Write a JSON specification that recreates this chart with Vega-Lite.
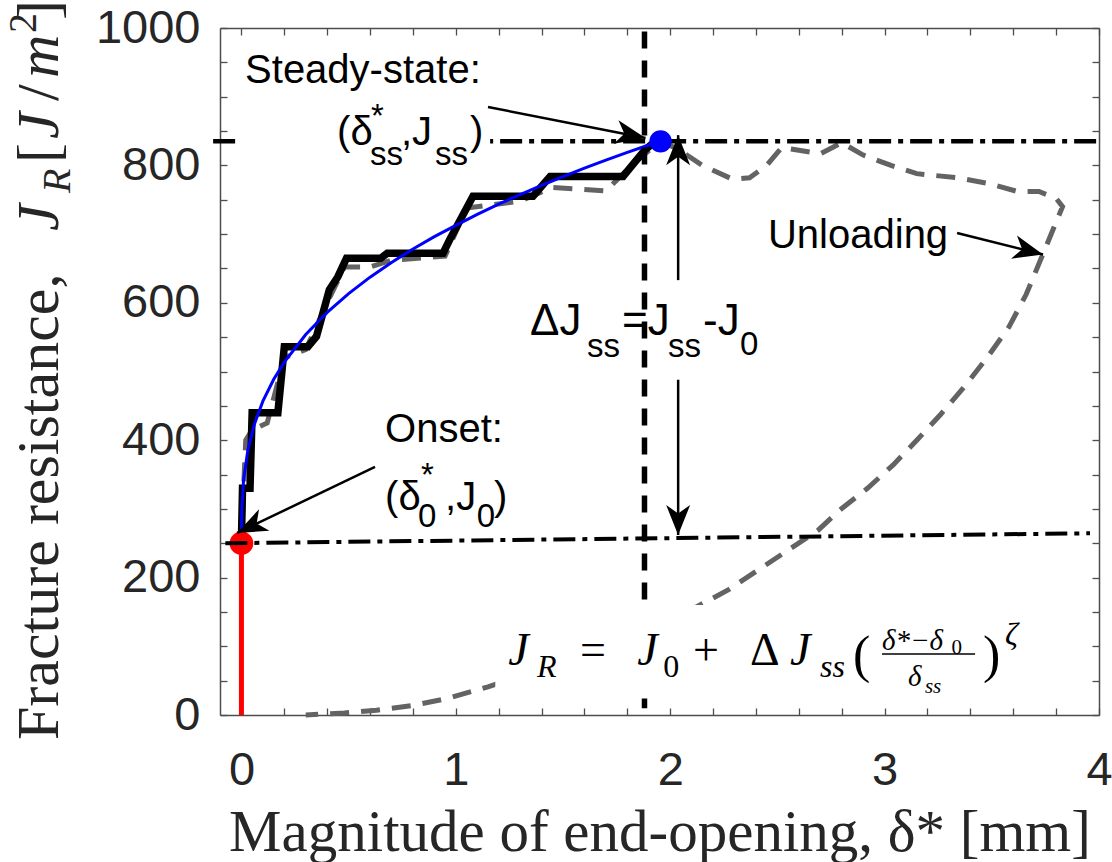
{
  "$schema": "https://vega.github.io/schema/vega-lite/v6.json",
  "width": 879,
  "height": 687,
  "autosize": {"type": "none"},
  "padding": {"left": 220, "top": 28, "right": 13, "bottom": 147},
  "background": "white",
  "config": {
    "view": {"stroke": null},
    "axis": {
      "grid": false,
      "domainColor": "#4d4d4d",
      "domainWidth": 1.5,
      "tickColor": "#4d4d4d",
      "tickWidth": 1.3,
      "tickSize": -7,
      "labelFont": "Liberation Sans",
      "labelFontSize": 47,
      "labelColor": "#262626",
      "labelFlush": false,
      "labelOverlap": false
    }
  },
  "datasets": {
    "grey": [
      {"x":0.0,"y":250},{"x":0.01,"y":330},{"x":0.02,"y":400},{"x":0.05,"y":415},{"x":0.12,"y":425},{"x":0.2,"y":520},{"x":0.3,"y":532},{"x":0.4,"y":600},{"x":0.48,"y":652},{"x":0.6,"y":652},{"x":0.7,"y":662},{"x":0.95,"y":668},{"x":1.05,"y":738},{"x":1.3,"y":748},{"x":1.45,"y":768},{"x":1.7,"y":763},{"x":1.82,"y":800},{"x":1.95,"y":835},
      {"x":2.03,"y":825},{"x":2.15,"y":800},{"x":2.29,"y":780},{"x":2.37,"y":782},{"x":2.45,"y":800},{"x":2.52,"y":826},{"x":2.6,"y":822},{"x":2.7,"y":817},{"x":2.8,"y":833},{"x":2.9,"y":815},{"x":3.03,"y":800},{"x":3.15,"y":788},{"x":3.34,"y":782},{"x":3.48,"y":774},{"x":3.62,"y":762},{"x":3.72,"y":762},{"x":3.8,"y":752},{"x":3.83,"y":740},{"x":3.79,"y":710},{"x":3.74,"y":672},{"x":3.66,"y":612},{"x":3.58,"y":565},{"x":3.48,"y":521},{"x":3.37,"y":477},{"x":3.26,"y":437},{"x":3.15,"y":400},{"x":3.04,"y":364},{"x":2.92,"y":330},{"x":2.79,"y":298},{"x":2.69,"y":269},{"x":2.55,"y":240},{"x":2.41,"y":211},{"x":2.27,"y":182},{"x":2.12,"y":157},{"x":1.9,"y":128},{"x":1.6,"y":90},{"x":1.3,"y":57},{"x":1.15,"y":41},{"x":0.96,"y":24},{"x":0.8,"y":14},{"x":0.63,"y":7},{"x":0.48,"y":3},{"x":0.3,"y":0}
    ],
    "black": [
      {"x":0.0,"y":255},{"x":0.005,"y":330},{"x":0.04,"y":330},{"x":0.05,"y":440},{"x":0.17,"y":440},{"x":0.2,"y":536},{"x":0.31,"y":536},{"x":0.35,"y":551},{"x":0.41,"y":619},{"x":0.45,"y":638},{"x":0.49,"y":665},{"x":0.65,"y":665},{"x":0.68,"y":672},{"x":0.94,"y":672},{"x":0.97,"y":691},{"x":1.08,"y":755},{"x":1.36,"y":755},{"x":1.44,"y":784},{"x":1.78,"y":784},{"x":1.88,"y":822},{"x":1.93,"y":835}
    ],
    "blue": [
      {"x":0,"y":250},{"x":0.0005,"y":282},{"x":0.002,"y":302.6},{"x":0.01,"y":342.5},{"x":0.03,"y":385.7},{"x":0.06,"y":423},{"x":0.1,"y":456.8},{"x":0.15,"y":488.4},{"x":0.2,"y":513.7},{"x":0.3,"y":553.9},{"x":0.4,"y":586},{"x":0.5,"y":613.3},{"x":0.6,"y":637.3},{"x":0.7,"y":658.7},{"x":0.8,"y":678.3},{"x":0.9,"y":696.3},{"x":1.0,"y":712.7},{"x":1.1,"y":728.8},{"x":1.2,"y":743.6},{"x":1.3,"y":757.6},{"x":1.4,"y":770.9},{"x":1.5,"y":783.7},{"x":1.6,"y":795.9},{"x":1.7,"y":807.6},{"x":1.8,"y":818.9},{"x":1.9,"y":829.7},{"x":1.95,"y":835}
    ],
    "redline": [{"x":0,"y":0,"y2":250}],
    "reddot": [{"x":0,"y":250}],
    "bluedot": [{"x":1.955,"y":835}],
    "dashdotTop": [{"x":-0.132,"y":835,"x2":4.016,"y2":835}],
    "dashdotBottom": [{"x":-0.075,"y":250,"x2":3.958,"y2":264.5}],
    "vdash": [{"x":1.88,"y":995,"x2":1.88,"y2":10}],
    "boxes": [
      {"x":-0.02,"x2":1.16,"y":975,"y2":793},
      {"x":1.184,"x2":3.655,"y":160,"y2":29}
    ],
    "arrows": [
      {"x":1.15,"y":885,"x2":1.885,"y2":840,"ang":101.2},
      {"x":2.037,"y":633,"x2":2.037,"y2":844,"ang":0},
      {"x":2.037,"y":488,"x2":2.037,"y2":262,"ang":180},
      {"x":0.623,"y":361,"x2":-0.02,"y2":265,"ang":244.4},
      {"x":3.338,"y":701.6,"x2":3.739,"y2":670.2,"ang":104.4}
    ],
    "fracbar": [{"x":2.988,"x2":3.422,"y":88.8,"y2":88.8}],
    "s40": [
      {"t":"Steady-state:","x":0.017,"y":920},
      {"t":"(δ","x":0.446,"y":829.7},
      {"t":",J","x":0.744,"y":829.7},
      {"t":")","x":1.066,"y":829.7},
      {"t":"Onset:","x":0.67,"y":397.4},
      {"t":"(δ","x":0.67,"y":298.4},
      {"t":",J","x":0.95,"y":298.4},
      {"t":")","x":1.178,"y":298.4},
      {"t":"Unloading","x":2.456,"y":679.8}
    ],
    "s33": [
      {"t":"*","x":0.604,"y":855.9},
      {"t":"ss","x":0.6,"y":800.6},
      {"t":"ss","x":0.903,"y":800.6},
      {"t":"*","x":0.838,"y":333.3},
      {"t":"0","x":0.824,"y":273.7},
      {"t":"0","x":1.098,"y":273.7},
      {"t":"ss","x":1.612,"y":521.1},
      {"t":"ss","x":1.99,"y":521.1},
      {"t":"0","x":2.326,"y":524}
    ],
    "s44": [
      {"t":"ΔJ","x":1.346,"y":553.1},
      {"t":"=J","x":1.775,"y":553.1},
      {"t":"-J","x":2.153,"y":553.1}
    ],
    "fi46": [
      {"t":"J","x":1.244,"y":72.8},
      {"t":"J","x":1.846,"y":72.8},
      {"t":"J","x":2.559,"y":72.8}
    ],
    "fn46": [
      {"t":"=","x":1.579,"y":72.8},
      {"t":"+","x":2.106,"y":72.8},
      {"t":"Δ","x":2.372,"y":72.8}
    ],
    "fi32": [
      {"t":"R","x":1.379,"y":55.3},
      {"t":"ss","x":2.699,"y":55.3},
      {"t":"ζ","x":3.562,"y":101.9}
    ],
    "fi30": [
      {"t":"δ*−δ","x":2.988,"y":94.6},
      {"t":"δ","x":3.109,"y":42.2}
    ],
    "fn32": [
      {"t":"0","x":1.967,"y":55.3}
    ],
    "fn22": [
      {"t":"0","x":3.312,"y":89.5}
    ],
    "fi22": [
      {"t":"ss","x":3.188,"y":32}
    ],
    "fn52": [
      {"t":"(","x":2.853,"y":62.6},
      {"t":")","x":3.459,"y":62.6}
    ],
    "yt_n60": [
      {"t":"Fracture resistance,","x":-0.8555,"y":-36.4},
      {"t":"[","x":-0.8555,"y":803.5},
      {"t":"/","x":-0.8555,"y":893.7},
      {"t":"]","x":-0.8555,"y":1011.6}
    ],
    "yt_i60": [
      {"t":"J","x":-0.8555,"y":704.5},
      {"t":"J","x":-0.8555,"y":838.4},
      {"t":"m","x":-0.8555,"y":927.2}
    ],
    "yt_i40": [
      {"t":"R","x":-0.799,"y":759.8}
    ],
    "yt_n40": [
      {"t":"2","x":-0.958,"y":992.7}
    ]
  },
  "encoding": {
    "x": {"field": "x", "type": "quantitative", "scale": {"domain": [-0.1, 4], "nice": false, "zero": false}, "axis": null},
    "y": {"field": "y", "type": "quantitative", "scale": {"domain": [0, 1000], "nice": false, "zero": false}, "axis": null}
  },
  "layer": [
    {
      "data": {"name": "grey"},
      "mark": {"type": "line", "order": false, "color": "#636363", "strokeWidth": 5, "strokeDash": [19, 12]},
      "encoding": {
        "x": {"field": "x", "type": "quantitative", "scale": {"domain": [-0.1, 4], "nice": false, "zero": false},
          "axis": {"orient": "bottom", "values": [0,0.2,0.4,0.6,0.8,1,1.2,1.4,1.6,1.8,2,2.2,2.4,2.6,2.8,3,3.2,3.4,3.6,3.8,4],
            "labelExpr": "datum.value % 1 === 0 ? format(datum.value, 'd') : ''",
            "labelBaseline": "alphabetic", "labelPadding": 76,
            "title": "Magnitude of end-opening, δ*  [mm]",
            "titleFont": "Liberation Serif", "titleFontSize": 59, "titleFontWeight": "normal", "titleColor": "#262626",
            "titleBaseline": "alphabetic", "titleY": 135}},
        "y": {"field": "y", "type": "quantitative", "scale": {"domain": [0, 1000], "nice": false, "zero": false},
          "axis": {"orient": "left", "values": [0,50,100,150,200,250,300,350,400,450,500,550,600,650,700,750,800,850,900,950,1000],
            "labelExpr": "datum.value % 200 === 0 ? format(datum.value, 'd') : ''",
            "labelPadding": 27, "title": null}}
      }
    },
    {
      "data": {"name": "black"},
      "mark": {"type": "line", "order": false, "color": "#000000", "strokeWidth": 7.5}
    },
    {
      "data": {"name": "blue"},
      "mark": {"type": "line", "order": false, "color": "#0000ff", "strokeWidth": 3},
      "encoding": {
        "x": {"field": "x", "type": "quantitative", "scale": {"domain": [-0.1, 4], "nice": false, "zero": false},
          "axis": {"orient": "top", "values": [0,0.2,0.4,0.6,0.8,1,1.2,1.4,1.6,1.8,2,2.2,2.4,2.6,2.8,3,3.2,3.4,3.6,3.8,4], "labels": false, "title": null}},
        "y": {"field": "y", "type": "quantitative", "scale": {"domain": [0, 1000], "nice": false, "zero": false},
          "axis": {"orient": "right", "values": [0,50,100,150,200,250,300,350,400,450,500,550,600,650,700,750,800,850,900,950,1000], "labels": false, "title": null}}
      }
    },
    {
      "data": {"name": "redline"},
      "mark": {"type": "rule", "color": "#ff0000", "strokeWidth": 5},
      "encoding": {"y2": {"field": "y2"}}
    },
    {
      "data": {"name": "reddot"},
      "mark": {"type": "circle", "color": "#ff0000", "size": 560, "opacity": 1}
    },
    {
      "data": {"name": "dashdotTop"},
      "mark": {"type": "rule", "color": "#000000", "strokeWidth": 4.5, "strokeDash": [22, 7, 5, 7]},
      "encoding": {"x2": {"field": "x2"}, "y2": {"field": "y2"}}
    },
    {
      "data": {"name": "dashdotBottom"},
      "mark": {"type": "rule", "color": "#000000", "strokeWidth": 4, "strokeDash": [22, 7, 5, 7]},
      "encoding": {"x2": {"field": "x2"}, "y2": {"field": "y2"}}
    },
    {
      "data": {"name": "vdash"},
      "mark": {"type": "rule", "color": "#000000", "strokeWidth": 5.5, "strokeDash": [17, 12]},
      "encoding": {"x2": {"field": "x2"}, "y2": {"field": "y2"}}
    },
    {
      "data": {"name": "bluedot"},
      "mark": {"type": "circle", "color": "#0000ff", "size": 500, "opacity": 1}
    },
    {
      "data": {"name": "boxes"},
      "mark": {"type": "rect", "color": "#ffffff", "opacity": 1},
      "encoding": {"x2": {"field": "x2"}, "y2": {"field": "y2"}}
    },
    {
      "data": {"name": "arrows"},
      "mark": {"type": "rule", "color": "#000000", "strokeWidth": 2.5},
      "encoding": {"x2": {"field": "x2"}, "y2": {"field": "y2"}}
    },
    {
      "data": {"name": "arrows"},
      "mark": {"type": "point", "shape": "M0,0 L0.4,1 L0,0.72 L-0.4,1 Z", "size": 3600, "filled": true, "color": "#000000", "opacity": 1, "strokeWidth": 0},
      "encoding": {
        "x": {"field": "x2", "type": "quantitative", "scale": {"domain": [-0.1, 4], "nice": false, "zero": false}, "axis": null},
        "y": {"field": "y2", "type": "quantitative", "scale": {"domain": [0, 1000], "nice": false, "zero": false}, "axis": null},
        "angle": {"field": "ang", "type": "quantitative", "scale": null}
      }
    },
    {
      "data": {"name": "fracbar"},
      "mark": {"type": "rule", "color": "#000000", "strokeWidth": 1.6},
      "encoding": {"x2": {"field": "x2"}, "y2": {"field": "y2"}}
    },
    {
      "data": {"name": "s40"},
      "mark": {"type": "text", "font": "Liberation Sans", "fontSize": 40, "align": "left", "baseline": "alphabetic", "color": "#000000"},
      "encoding": {"text": {"field": "t"}}
    },
    {
      "data": {"name": "s33"},
      "mark": {"type": "text", "font": "Liberation Sans", "fontSize": 33, "align": "left", "baseline": "alphabetic", "color": "#000000"},
      "encoding": {"text": {"field": "t"}}
    },
    {
      "data": {"name": "s44"},
      "mark": {"type": "text", "font": "Liberation Sans", "fontSize": 44, "align": "left", "baseline": "alphabetic", "color": "#000000"},
      "encoding": {"text": {"field": "t"}}
    },
    {
      "data": {"name": "fi46"},
      "mark": {"type": "text", "font": "Liberation Serif", "fontSize": 46, "fontStyle": "italic", "align": "left", "baseline": "alphabetic", "color": "#000000"},
      "encoding": {"text": {"field": "t"}}
    },
    {
      "data": {"name": "fn46"},
      "mark": {"type": "text", "font": "Liberation Serif", "fontSize": 46, "align": "left", "baseline": "alphabetic", "color": "#000000"},
      "encoding": {"text": {"field": "t"}}
    },
    {
      "data": {"name": "fi32"},
      "mark": {"type": "text", "font": "Liberation Serif", "fontSize": 32, "fontStyle": "italic", "align": "left", "baseline": "alphabetic", "color": "#000000"},
      "encoding": {"text": {"field": "t"}}
    },
    {
      "data": {"name": "fi30"},
      "mark": {"type": "text", "font": "Liberation Serif", "fontSize": 29, "fontStyle": "italic", "align": "left", "baseline": "alphabetic", "color": "#000000"},
      "encoding": {"text": {"field": "t"}}
    },
    {
      "data": {"name": "fn32"},
      "mark": {"type": "text", "font": "Liberation Serif", "fontSize": 32, "align": "left", "baseline": "alphabetic", "color": "#000000"},
      "encoding": {"text": {"field": "t"}}
    },
    {
      "data": {"name": "fn22"},
      "mark": {"type": "text", "font": "Liberation Serif", "fontSize": 21, "align": "left", "baseline": "alphabetic", "color": "#000000"},
      "encoding": {"text": {"field": "t"}}
    },
    {
      "data": {"name": "fi22"},
      "mark": {"type": "text", "font": "Liberation Serif", "fontSize": 21, "fontStyle": "italic", "align": "left", "baseline": "alphabetic", "color": "#000000"},
      "encoding": {"text": {"field": "t"}}
    },
    {
      "data": {"name": "fn52"},
      "mark": {"type": "text", "font": "Liberation Serif", "fontSize": 52, "align": "left", "baseline": "alphabetic", "color": "#000000"},
      "encoding": {"text": {"field": "t"}}
    },
    {
      "data": {"name": "yt_n60"},
      "mark": {"type": "text", "font": "Liberation Serif", "fontSize": 60, "angle": 270, "align": "left", "baseline": "alphabetic", "color": "#262626"},
      "encoding": {"text": {"field": "t"}}
    },
    {
      "data": {"name": "yt_i60"},
      "mark": {"type": "text", "font": "Liberation Serif", "fontSize": 60, "fontStyle": "italic", "angle": 270, "align": "left", "baseline": "alphabetic", "color": "#262626"},
      "encoding": {"text": {"field": "t"}}
    },
    {
      "data": {"name": "yt_i40"},
      "mark": {"type": "text", "font": "Liberation Serif", "fontSize": 40, "fontStyle": "italic", "angle": 270, "align": "left", "baseline": "alphabetic", "color": "#262626"},
      "encoding": {"text": {"field": "t"}}
    },
    {
      "data": {"name": "yt_n40"},
      "mark": {"type": "text", "font": "Liberation Serif", "fontSize": 40, "angle": 270, "align": "left", "baseline": "alphabetic", "color": "#262626"},
      "encoding": {"text": {"field": "t"}}
    }
  ],
  "resolve": {"axis": {"x": "independent", "y": "independent"}}
}
